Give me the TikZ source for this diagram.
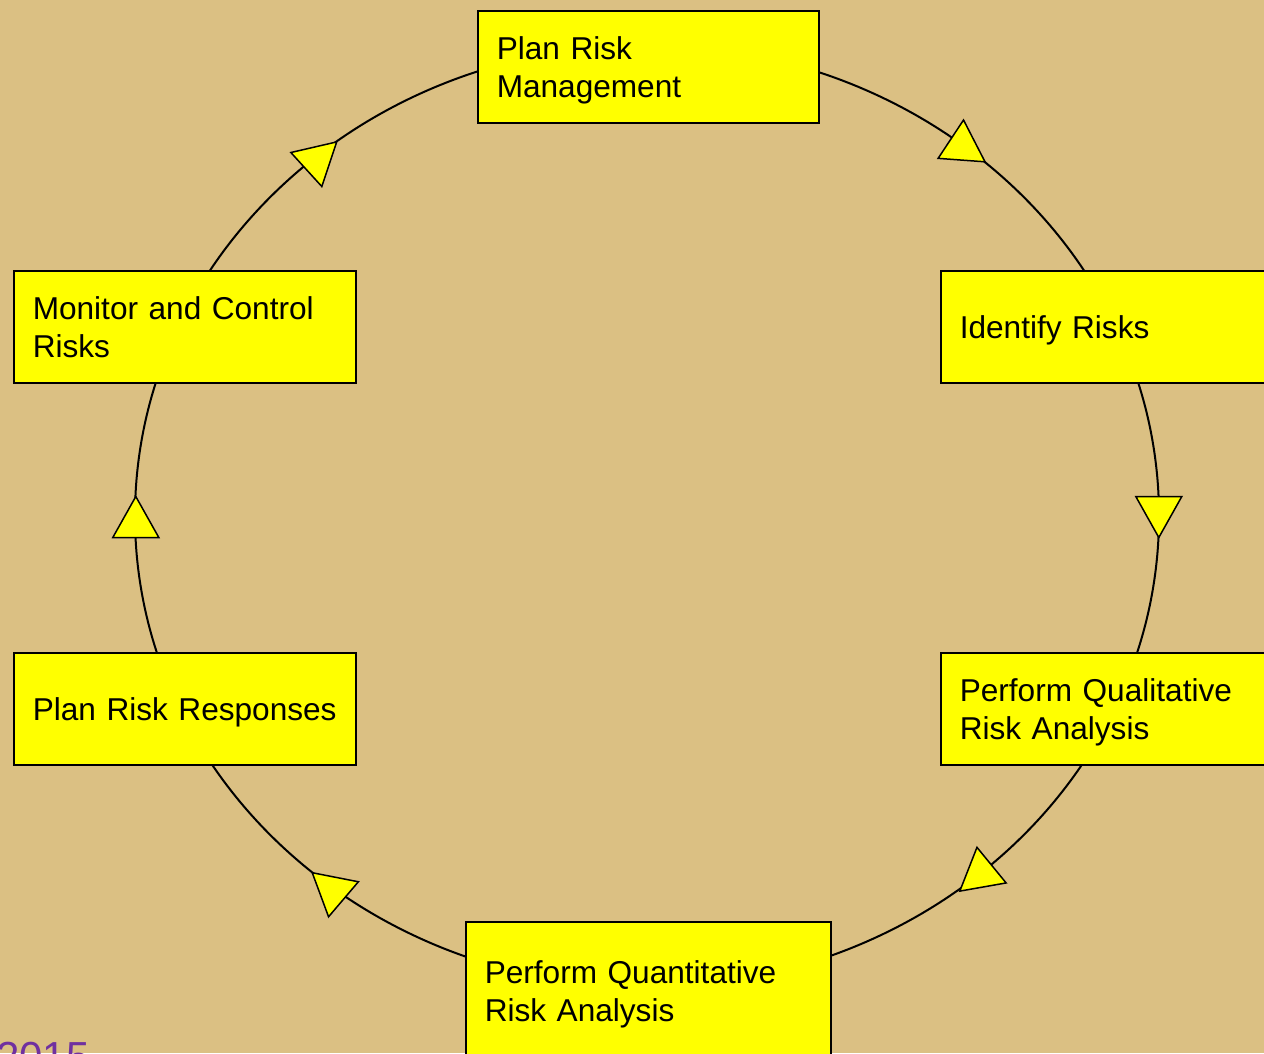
\documentclass[tikz,border=0pt]{standalone}
\usepackage{fontspec}
\setmainfont{Liberation Sans}
\definecolor{bgtan}{RGB}{219,192,131}
\definecolor{boxyellow}{RGB}{255,255,0}
\definecolor{yearpurple}{RGB}{112,48,160}
\hyphenpenalty=10000
\exhyphenpenalty=10000
\begin{document}
\begin{tikzpicture}[x=1pt,y=1pt,
  stepbox/.style={draw=black, line width=1.5pt, fill=boxyellow, anchor=north west,
    inner xsep=19pt, inner ysep=0pt, align=left, text width=304pt, minimum height=112pt,
    font=\fontsize{31.6}{38}\selectfont},
  oneline/.style={text depth=0pt},
  twoline/.style={text depth=38pt},
  ring/.style={draw=black, line width=2pt},
  arrowtri/.style={draw=black, line width=1.5pt, fill=boxyellow, line join=miter},
  tri/.pic={\draw[arrowtri] (27,0) -- (-14,23) -- (-14,-23) -- cycle;}
]
\useasboundingbox (0,0) rectangle (1264,-1053);
\clip (0,0) rectangle (1264,-1053);
\fill[bgtan] (0,0) rectangle (1264,-1053);

% cycle ring
\coordinate (c) at (647,-516);
\draw[ring] (c) ellipse [x radius=512pt, y radius=471pt];

% process boxes
\node[stepbox, twoline, text width=303pt] (prm) at (477,-10) {Plan Risk\\Management};
\node[stepbox, oneline] (ir)  at (940,-270) {Identify Risks};
\node[stepbox, twoline] (pql) at (940,-652) {Perform Qualitative\\Risk Analysis};
\node[stepbox, twoline, text width=327pt, minimum height=138pt] (pqn) at (465,-921) {Perform Quantitative\\Risk Analysis};
\node[stepbox, oneline] (prr) at (13,-652) {Plan Risk Responses};
\node[stepbox, twoline] (mcr) at (13,-270) {Monitor and Control\\Risks};

% direction arrowheads on the ring
\pic[rotate=-33.5] at (962.5,-146.9) {tri};
\pic[rotate=-90]   at (1158.8,-510.5) {tri};
\pic[rotate=-140.7] at (980.7,-874) {tri};
\pic[rotate=139.6] at (332.8,-890.2) {tri};
\pic[rotate=90]    at (135.8,-523.5) {tri};
\pic[rotate=42.3]  at (316.7,-160.1) {tri};

% year (cut off at the bottom, as in the original)
\node[anchor=base west, inner sep=0pt, text=yearpurple, font=\fontsize{42}{48}\selectfont] (year) at (-4,-1071) {2015};
\end{tikzpicture}
\end{document}
